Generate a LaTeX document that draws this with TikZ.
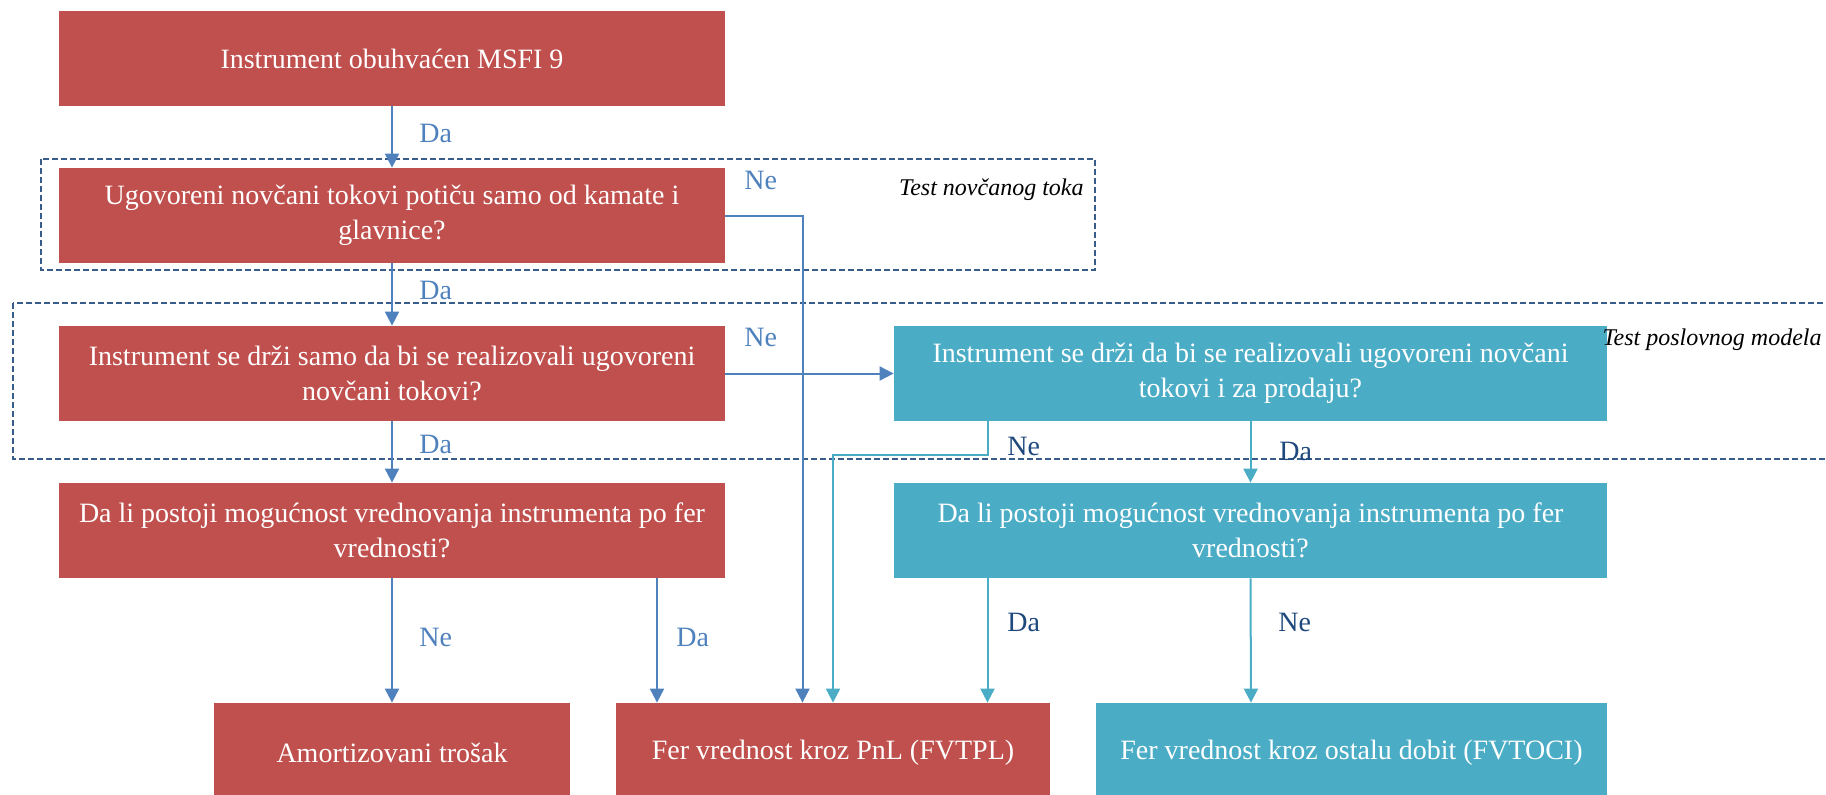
\documentclass[tikz,border=0pt]{standalone}
\usepackage{fontspec}
\setmainfont{Liberation Serif}
\usetikzlibrary{arrows.meta,calc}
\definecolor{boxred}{HTML}{C0504D}
\definecolor{boxteal}{HTML}{4BACC6}
\definecolor{lineblue}{HTML}{4F81BD}
\definecolor{dashblue}{HTML}{385D8A}
\definecolor{labnavy}{HTML}{1F497D}

\begin{document}
\begin{tikzpicture}[x=0.5pt,y=-0.5pt,
  redbox/.style={fill=boxred,text=white,align=center,inner sep=0pt,font=\fontsize{14}{17.5}\selectfont},
  tealbox/.style={redbox,fill=boxteal},
  bluearr/.style={draw=lineblue,line width=1pt,-{Triangle[width=7pt,length=7pt]}},
  tealarr/.style={draw=boxteal,line width=1pt,-{Triangle[width=7pt,length=7pt]}},
  bluelab/.style={anchor=west,inner sep=0pt,text=lineblue,font=\fontsize{14}{17.5}\selectfont},
  navylab/.style={bluelab,text=labnavy},
  testbox/.style={draw=dashblue,line width=1pt,dash pattern=on 3pt off 1.5pt},
  testlab/.style={anchor=east,inner sep=0pt,font=\fontsize{12}{14}\selectfont\itshape}]
\useasboundingbox (0,0) rectangle (1826,794);
\clip (0,0) rectangle (1826,794);

%Shape: Dashed frames
\draw[testbox] (41,159) rectangle (1095,270);
\draw[testbox] (13,303) rectangle (1860,459);

%Shape: Rectangles
\node[redbox,minimum width=333pt,minimum height=47.5pt] (b1) at (392,58.5) {Instrument obuhvaćen MSFI 9};
\node[redbox,minimum width=333pt,minimum height=47.5pt] (b2) at (392,215.5) {Ugovoreni novčani tokovi potiču samo od kamate i\\glavnice?};
\node[redbox,minimum width=333pt,minimum height=47.5pt] (b3) at (392,373.5) {Instrument se drži samo da bi se realizovali ugovoreni\\novčani tokovi?};
\node[redbox,minimum width=333pt,minimum height=47.5pt] (b5) at (392,530.5) {Da li postoji mogućnost vrednovanja instrumenta po fer\\vrednosti?};
\node[tealbox,minimum width=356.5pt,minimum height=47.5pt] (b4) at (1250.5,373.5) {Instrument se drži da bi se realizovali ugovoreni novčani\\tokovi i za prodaju?};
\node[tealbox,minimum width=356.5pt,minimum height=47.5pt] (b6) at (1250.5,530.5) {Da li postoji mogućnost vrednovanja instrumenta po fer\\vrednosti?};
\node[redbox,minimum width=178pt,minimum height=50pt] (b7) at (392,753) {Amortizovani trošak};
\node[redbox,minimum width=217pt,minimum height=50pt] (b8) at (833,753) {Fer vrednost kroz PnL (FVTPL)};
\node[tealbox,minimum width=255.5pt,minimum height=50pt] (b9) at (1351.5,753) {Fer vrednost kroz ostalu dobit (FVTOCI)};

%Text: frame titles
\node[testlab] (tnt) at (1084,190) {Test novčanog toka};
\node[testlab] (tpm) at (1822,340) {Test poslovnog modela};

%Straight Lines: left column
\draw[bluearr] (b1) -- (b2);
\draw[bluearr] (b2) -- (b3);
\draw[bluearr] (b3) -- (b5);
\draw[bluearr] (b3) -- (b4);
\draw[bluearr] (b2.east) -| ($(b8.north)+(-30.5,0)$);
\draw[bluearr] (b5) -- (b7);
\draw[bluearr] ($(b5.south)+(265,0)$) -- ($(b8.north)+(-176,0)$);

%Straight Lines: right column
\draw[tealarr] (b4) -- (b6);
\draw[tealarr] ($(b4.south)+(-263,0)$) -- ++(0,34) -| (b8.north);
\draw[tealarr] ($(b6.south)+(-263,0)$) -- ($(b8.north)+(154.5,0)$);
\draw[tealarr] (b6.south) -- ($(b9.north)+(-100.5,0)$);

%Text: answers
\node[bluelab] (l1) at (419,133) {Da};
\node[bluelab] (l2) at (744,180) {Ne};
\node[bluelab] (l3) at (419,290) {Da};
\node[bluelab] (l4) at (744,337) {Ne};
\node[bluelab] (l5) at (419,444) {Da};
\node[bluelab] (l6) at (419,637) {Ne};
\node[bluelab] (l7) at (676,637) {Da};
\node[navylab] (l8) at (1007,446) {Ne};
\node[navylab] (l9) at (1279,451) {Da};
\node[navylab] (l10) at (1007,622) {Da};
\node[navylab] (l11) at (1278,622) {Ne};

\end{tikzpicture}
\end{document}
